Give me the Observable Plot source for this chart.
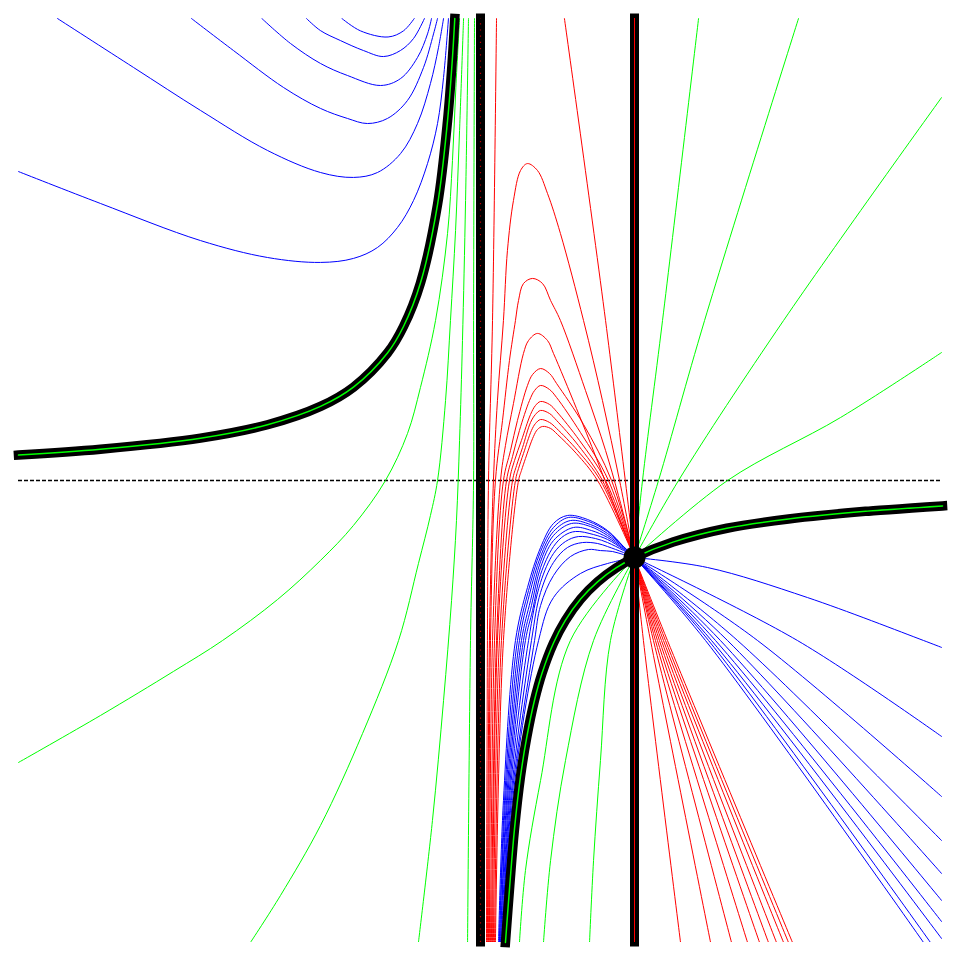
<!DOCTYPE html>
<html><head><meta charset="utf-8">
<script src="https://cdn.jsdelivr.net/npm/d3@7"></script>
<script src="https://cdn.jsdelivr.net/npm/@observablehq/plot@0.6"></script>
<style>body{margin:0;background:#fff}</style>
</head><body><div id="chart"></div>
<script>
// Blue curves, upper-left region (x<0)
const blueUpper = [
  [[-0.90,3.0],[-0.78,2.92],[-0.60,2.88],[-0.50,2.92],[-0.43,3.0]],
  [[-1.13,3.0],[-1.04,2.922],[-0.91,2.857],[-0.76,2.792],[-0.63,2.753],[-0.52,2.792],[-0.435,2.87],[-0.364,3.0]],
  [[-1.42,3.0],[-1.234,2.838],[-1.039,2.708],[-0.864,2.63],[-0.649,2.565],[-0.519,2.61],[-0.409,2.747],[-0.344,2.90],[-0.318,3.0]],
  [[-1.877,3.0],[-1.604,2.792],[-1.279,2.552],[-1.039,2.416],[-0.864,2.351],[-0.734,2.318],[-0.604,2.351],[-0.474,2.468],[-0.37,2.682],[-0.305,2.90],[-0.279,3.0]],
  [[-2.747,3.0],[-2.253,2.682],[-1.818,2.403],[-1.383,2.143],[-1.039,2.0],[-0.825,1.968],[-0.669,2.0],[-0.519,2.123],[-0.409,2.318],[-0.325,2.578],[-0.273,2.81],[-0.24,3.0]],
  [[-3.0,2.006],[-2.468,1.799],[-1.818,1.558],[-1.383,1.448],[-1.039,1.416],[-0.825,1.442],[-0.669,1.513],[-0.539,1.643],[-0.435,1.818],[-0.344,2.058],[-0.279,2.318],[-0.24,2.617],[-0.208,3.0]]
];
// Blue curves through the singular point: part left of it, part right of it
const blueLowerLeft = [
  [[0.117,-3],[0.149,-2.078],[0.227,-1.039],[0.305,-0.695],[0.390,-0.435],[0.474,-0.279],[0.565,-0.227],[0.695,-0.253],[0.825,-0.325],[0.929,-0.429],[1,-0.5]],
  [[0.123,-3],[0.156,-2.078],[0.240,-1.039],[0.312,-0.714],[0.390,-0.461],[0.474,-0.305],[0.571,-0.240],[0.701,-0.266],[0.825,-0.331],[0.929,-0.429],[1,-0.5]],
  [[0.123,-3],[0.162,-2.078],[0.253,-1.039],[0.318,-0.740],[0.390,-0.494],[0.474,-0.331],[0.584,-0.260],[0.714,-0.286],[0.825,-0.344],[0.929,-0.429],[1,-0.5]],
  [[0.130,-3],[0.169,-2.078],[0.266,-1.039],[0.325,-0.779],[0.390,-0.526],[0.474,-0.357],[0.591,-0.279],[0.714,-0.299],[0.825,-0.357],[0.929,-0.435],[1,-0.5]],
  [[0.130,-3],[0.175,-2.078],[0.279,-1.039],[0.331,-0.812],[0.390,-0.565],[0.474,-0.390],[0.604,-0.305],[0.721,-0.325],[0.825,-0.370],[0.929,-0.442],[1,-0.5]],
  [[0.136,-3],[0.182,-2.078],[0.292,-1.039],[0.338,-0.844],[0.390,-0.610],[0.474,-0.429],[0.545,-0.357],[0.617,-0.331],[0.734,-0.351],[0.825,-0.383],[0.929,-0.448],[1,-0.5]],
  [[0.143,-3],[0.188,-2.078],[0.312,-1.039],[0.390,-0.662],[0.474,-0.474],[0.552,-0.396],[0.636,-0.364],[0.747,-0.377],[0.825,-0.403],[0.929,-0.455],[1,-0.5]],
  [[0.143,-3],[0.195,-2.078],[0.331,-1.039],[0.390,-0.727],[0.474,-0.532],[0.565,-0.435],[0.662,-0.403],[0.760,-0.409],[0.825,-0.429],[0.929,-0.468],[1,-0.5]],
  [[0.149,-3],[0.201,-2.078],[0.351,-1.039],[0.390,-0.812],[0.474,-0.617],[0.584,-0.494],[0.701,-0.448],[0.779,-0.455],[0.857,-0.461],[0.929,-0.481],[1,-0.5]],
  [[0.156,-3],[0.208,-2.078],[0.377,-1.039],[0.474,-0.760],[0.649,-0.604],[0.825,-0.539],[1,-0.5]]
];
const blueLowerRight = [
  [[1,-0.5],[1.461,-1.039],[2.877,-3]],
  [[1,-0.5],[1.481,-1.039],[2.922,-3]],
  [[1,-0.5],[1.500,-1.039],[2.994,-2.974]],
  [[1,-0.5],[1.526,-1.039],[2.994,-2.864]],
  [[1,-0.5],[1.558,-1.039],[2.994,-2.727]],
  [[1,-0.5],[1.604,-1.039],[2.994,-2.552]],
  [[1,-0.5],[1.669,-1.039],[2.994,-2.338]],
  [[1,-0.5],[1.799,-1.039],[2.994,-2.052]],
  [[1,-0.5],[2.058,-1.039],[2.994,-1.662]],
  [[1,-0.5],[1.474,-0.565],[2.123,-0.760],[2.877,-1.039],[2.994,-1.084]]
];
// Red curves: the parts that end at the singular point, then the parts below it
const redLeft = [
  [[0.104,3.0],[0.078,1.039],[0.052,0],[0.045,-1.039],[0.039,-3]],
  [[0.545,3.0],[0.812,1.039],[1,-0.5]],
  [[0.045,-3],[0.058,-1.039],[0.084,0],[0.110,0.519],[0.149,1.039],[0.175,1.494],[0.214,1.818],[0.260,2.013],[0.305,2.058],[0.370,2.013],[0.435,1.864],[0.519,1.604],[0.669,1.039],[0.792,0.519],[0.903,0],[1,-0.5]],
  [[0.052,-3],[0.065,-1.039],[0.097,0],[0.143,0.390],[0.188,0.779],[0.227,1.039],[0.247,1.169],[0.279,1.279],[0.338,1.312],[0.403,1.279],[0.455,1.169],[0.519,1.039],[0.682,0.584],[0.812,0.195],[0.896,-0.097],[1,-0.5]],
  [[0.058,-3],[0.078,-1.039],[0.130,0],[0.162,0.227],[0.214,0.500],[0.279,0.825],[0.312,0.909],[0.370,0.955],[0.435,0.909],[0.474,0.825],[0.623,0.468],[0.753,0.143],[0.857,-0.130],[1,-0.5]],
  [[0.065,-3],[0.091,-1.039],[0.149,0],[0.195,0.195],[0.240,0.390],[0.305,0.617],[0.338,0.688],[0.390,0.727],[0.448,0.695],[0.494,0.630],[0.669,0.364],[0.851,0],[1,-0.5]],
  [[0.071,-3],[0.104,-1.039],[0.169,0],[0.208,0.156],[0.253,0.325],[0.318,0.519],[0.351,0.584],[0.390,0.617],[0.448,0.591],[0.494,0.539],[0.649,0.312],[0.831,0],[1,-0.5]],
  [[0.078,-3],[0.110,-1.039],[0.188,0],[0.221,0.130],[0.266,0.260],[0.325,0.429],[0.357,0.487],[0.390,0.513],[0.448,0.494],[0.494,0.448],[0.643,0.260],[0.812,0],[1,-0.5]],
  [[0.084,-3],[0.123,-1.039],[0.208,0],[0.234,0.097],[0.273,0.214],[0.325,0.377],[0.357,0.429],[0.390,0.455],[0.448,0.435],[0.494,0.390],[0.636,0.227],[0.792,0],[1,-0.5]],
  [[0.091,-3],[0.136,-1.039],[0.227,0],[0.247,0.078],[0.279,0.175],[0.331,0.325],[0.357,0.370],[0.390,0.396],[0.448,0.377],[0.494,0.338],[0.630,0.195],[0.779,0],[1,-0.5]],
  [[0.097,-3],[0.149,-1.039],[0.247,0],[0.266,0.065],[0.292,0.143],[0.344,0.286],[0.370,0.331],[0.403,0.351],[0.455,0.338],[0.500,0.299],[0.623,0.175],[0.760,0],[1,-0.5]]
];
const redRight = [
  [[1,-0.5],[1.058,-1.039],[1.299,-3]],
  [[1,-0.5],[1.104,-1.039],[1.494,-3]],
  [[1,-0.5],[1.123,-1.039],[1.630,-3]],
  [[1,-0.5],[1.136,-1.039],[1.734,-3]],
  [[1,-0.5],[1.149,-1.039],[1.812,-3]],
  [[1,-0.5],[1.162,-1.039],[1.870,-3]],
  [[1,-0.5],[1.175,-1.039],[1.922,-3]],
  [[1,-0.5],[1.188,-1.039],[1.968,-3]],
  [[1,-0.5],[1.201,-1.039],[2.0,-3]],
  [[1,-0.5],[1.214,-1.039],[2.026,-3]]
];
// Green curves
const greenCurves = [
  [[-3,-1.831],[-2.468,-1.526],[-1.994,-1.240],[-1.675,-1.039],[-1.318,-0.773],[-1.039,-0.519],[-0.825,-0.292],[-0.617,0],[-0.474,0.305],[-0.39,0.604],[-0.292,1.039],[-0.214,1.604],[-0.182,2.078],[-0.16,2.55],[-0.136,3.0]],
  [[-1.494,-3],[-1.299,-2.695],[-1.039,-2.24],[-0.766,-1.643],[-0.532,-1.039],[-0.403,-0.539],[-0.325,-0.227],[-0.279,0],[-0.227,0.519],[-0.195,1.039],[-0.162,1.623],[-0.136,2.273],[-0.11,3.0]],
  [[-0.403,-3],[-0.312,-2.208],[-0.240,-1.429],[-0.188,-0.779],[-0.156,-0.260],[-0.136,0.260],[-0.117,0.909],[-0.097,1.818],[-0.078,3.0]],
  [[-0.084,-3],[-0.065,-1.039],[-0.045,0],[-0.045,1.039],[-0.039,3.0]],
  [[1,-0.5],[1.052,0],[1.182,1.039],[1.416,3.0]],
  [[1,-0.5],[1.156,0],[1.455,1.039],[2.065,3.0]],
  [[1,-0.5],[1.286,0],[1.968,1.039],[2.994,2.487]],
  [[1,-0.5],[1.604,0],[2.338,0.409],[2.994,0.831]],
  [[1,-0.5],[0.584,-1.039],[0.390,-1.948],[0.292,-2.532],[0.253,-3]],
  [[1,-0.5],[0.734,-1.039],[0.552,-1.818],[0.455,-2.468],[0.409,-3]],
  [[1,-0.5],[0.844,-1.039],[0.779,-1.818],[0.734,-2.468],[0.708,-3]]
];
// Thick black solution curve, two branches
const hypUpper = [[-3,0.165],[-2.468,0.203],[-1.818,0.275],[-1.383,0.362],[-1.039,0.481],[-0.825,0.606],[-0.604,0.828],[-0.5,1.0],[-0.39,1.282],[-0.279,1.792],[-0.214,2.336],[-0.182,2.747],[-0.167,3.0]];
const hypLower = [[0.162,-3.0],[0.19,-2.63],[0.22,-2.27],[0.26,-1.92],[0.30,-1.67],[0.35,-1.43],[0.40,-1.25],[0.474,-1.055],[0.55,-0.91],[0.65,-0.77],[0.76,-0.658],[0.88,-0.568],[1.0,-0.5],[1.25,-0.40],[1.6,-0.31],[2.0,-0.25],[2.5,-0.20],[3.0,-0.165]];
const verticals = [0, 1];
const singular = [[1, -0.5]];

function flat(curves, name) {
  return curves.flatMap((c, i) => c.map(([x, y]) => ({x, y, id: name + i})));
}
const blueData = [...flat(blueUpper, "bu"), ...flat(blueLowerLeft, "bl"), ...flat(blueLowerRight, "br")];
const redData = [...flat(redLeft, "rl"), ...flat(redRight, "rr")];
const greenData = flat(greenCurves, "g");
const hypData = flat([hypUpper, hypLower], "h");

const plot = Plot.plot({
  width: 960, height: 960,
  marginTop: 18, marginBottom: 18, marginLeft: 18, marginRight: 18,
  x: {domain: [-3, 3], axis: null},
  y: {domain: [-3, 3], axis: null},
  marks: [
    Plot.ruleY([0], {x1: -3, x2: 3, stroke: "black", strokeWidth: 1.5, strokeDasharray: "4,2"}),
    Plot.line(greenData, {x: "x", y: "y", z: "id", stroke: "#00ff00", strokeWidth: 1, curve: "catmull-rom", clip: true}),
    Plot.line(redData, {x: "x", y: "y", z: "id", stroke: "#ff0000", strokeWidth: 1, curve: "catmull-rom", clip: true}),
    Plot.line(blueData, {x: "x", y: "y", z: "id", stroke: "#0000ff", strokeWidth: 1, curve: "catmull-rom", clip: true}),
    Plot.ruleX(verticals, {x: d => d, y1: -3, y2: 3, stroke: "black", strokeWidth: 9, strokeLinecap: "square"}),
    Plot.ruleX([0], {x: d => d, y1: -3, y2: 3, stroke: "#c00000", strokeWidth: 1.2, strokeDasharray: "1.2,5"}),
    Plot.ruleX([1], {x: d => d, y1: -3, y2: 3, stroke: "#ff0000", strokeWidth: 1}),
    Plot.line(hypData, {x: "x", y: "y", z: "id", stroke: "black", strokeWidth: 9.5, strokeLinecap: "square", curve: "catmull-rom"}),
    Plot.line(hypData, {x: "x", y: "y", z: "id", stroke: "#00ff00", strokeWidth: 1.5, curve: "catmull-rom"}),
    Plot.dot(singular, {x: d => d[0], y: d => d[1], r: 11, fill: "black"})
  ]
});
document.getElementById("chart").append(plot);
</script></body></html>
